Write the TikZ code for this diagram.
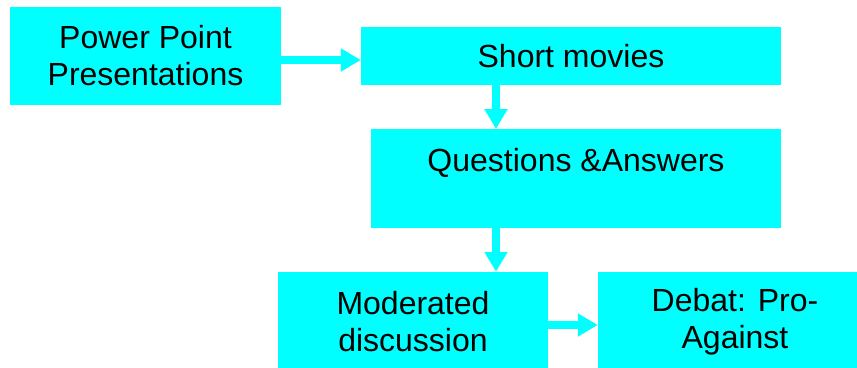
\documentclass[tikz,border=0pt]{standalone}
\usepackage{fontspec}
\setmainfont{Liberation Sans}
\usetikzlibrary{positioning,arrows.meta}
\definecolor{boxcyan}{RGB}{0,255,255}

\begin{document}
\begin{tikzpicture}[
			x=1pt, y=-1pt,
			every node/.style={fill=boxcyan, inner sep=0pt, align=center,
				font=\fontsize{32}{37}\selectfont},
			flow/.style={draw=boxcyan, line width=8pt,
				-{Triangle[width=22pt,length=20pt]}},
		]
		\clip (0,0) rectangle (857,367);

		% Top row
		\node[minimum width=271pt, minimum height=98pt] (pp) at (145.5,56) {Power Point\\Presentations};
		\node[minimum width=420pt, minimum height=58pt] (movies) at (571,56) {Short movies};

		% Middle box, text sits near its top
		\node[anchor=north, minimum width=410pt, text height=42.5pt, text depth=56.5pt] (qa) at (576,129) {Questions \&Answers};

		% Bottom row
		\node[minimum width=270pt, minimum height=99pt] (moderated) at (413,321.5) {Moderated\\discussion};
		\node[minimum width=274pt, minimum height=99pt] (debat) at (735,321.5) {Debat: Pro-\\Against};

		% Arrows between the boxes
		\draw[flow] ([yshift=-4pt]pp.east) -- ([yshift=-4pt]pp.east -| movies.west);
		\draw[flow] ([xshift=-75pt]movies.south) -- ([xshift=-75pt]movies.south |- qa.north);
		\draw[flow] ([xshift=-80pt]qa.south) -- ([xshift=-80pt]qa.south |- moderated.north);
		\draw[flow] ([yshift=-3.5pt]moderated.east) -- ([yshift=-3.5pt]moderated.east -| debat.west);
	\end{tikzpicture}
\end{document}
